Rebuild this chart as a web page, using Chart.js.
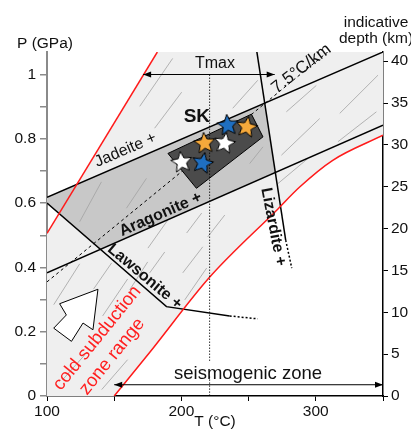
<!DOCTYPE html>
<html lang="en">
<head>
  <meta charset="UTF-8" />
  <title>P-T diagram, cold subduction range</title>
  <style>
    html, body { margin: 0; padding: 0; background: #fff; }
    #pt { display: block; }
  </style>
</head>
<body>
<canvas id="pt" width="411" height="431"></canvas>

<script src="https://cdn.jsdelivr.net/npm/chart.js"></script>
<script>
  // [T (°C), P (GPa)] pairs
  const coldLeft = [[100, 0.506], [182.1, 1.07]];
  const coldRight = [[150, 0], [176.5, 0.136], [221.1, 0.370], [270.9, 0.578], [288, 0.650], [312.6, 0.733], [350, 0.811]];
  const jadeite = [[100, 0.618], [350, 1.07]];
  const aragonite = [[100, 0.383], [350, 0.842]];
  const lawsonite = [[100, 0.6], [188.9, 0.278], [235.9, 0.249]];
  const lawsoniteExt = [[235.9, 0.249], [256.8, 0.240]];
  const lizardite = [[255.8, 1.08], [277.6, 0.485]];
  const lizarditeExt = [[277.6, 0.485], [282.1, 0.398]];
  const geotherm = [[100, 0.355], [310.3, 1.075]];
  const hpBand = [[100, 0.618], [261.7, 0.910], [269.8, 0.695], [139.8, 0.456], [100, 0.6], [100, 0.618]];
  const skField = [[190.0, 0.7545], [252.1, 0.8766], [260.7, 0.806], [211.2, 0.646], [190.0, 0.7545]];
  const starsWhite = [[200.2, 0.727], [232.2, 0.786]];
  const starsBlue = [[215.8, 0.724], [234.5, 0.842]];
  const starsOrange = [[217.3, 0.786], [248.6, 0.836]];
  const flowArrow = [[137.9, 0.332], [134.2, 0.206], [126.8, 0.227], [118.2, 0.170], [105.0, 0.211], [114.4, 0.252], [109.4, 0.287], [137.9, 0.332]];
  const hatch = [
    [169.0, 0.901, 193.5, 1.050], [180.1, 0.833, 200.2, 0.945], [238.2, 0.895, 256.8, 0.982],
    [278.1, 0.884, 300.4, 0.966], [317.8, 0.879, 346.3, 0.998],
    [124.3, 0.542, 140.5, 0.666], [159.1, 0.584, 174.0, 0.677], [175.1, 0.460, 190.0, 0.548],
    [250.8, 0.723, 260.7, 0.775], [274.4, 0.749, 302.9, 0.863], [316.5, 0.791, 345.1, 0.884],
    [271.9, 0.661, 294.2, 0.739], [105.0, 0.284, 124.3, 0.411], [134.7, 0.333, 148.1, 0.414],
    [141.4, 0.249, 160.0, 0.364], [161.5, 0.330, 174.9, 0.417], [176.4, 0.383, 187.6, 0.448],
    [201.0, 0.383, 215.9, 0.464], [202.5, 0.299, 218.8, 0.398], [203.9, 0.507, 215.1, 0.569],
    [219.6, 0.495, 232.3, 0.563], [111.7, 0.051, 128.1, 0.128], [140.7, 0.020, 160.0, 0.113]
  ];
  const tMax = 221;
  const tMaxLevel = 1.0;
  const tMaxRange = [171.5, 269.4];
  const seismoLevel = 0.035;
  const seismoRange = [150, 350];

  const FONT = "'Liberation Sans', Arial, sans-serif";
  const pts = arr => arr.map(([t, p]) => ({x: t, y: p}));
  const hatchPts = [];
  hatch.forEach(([t1, p1, t2, p2]) => {
    hatchPts.push({x: t1, y: p1}, {x: t2, y: p2}, {x: t2, y: null});
  });

  function starImage(fill) {
    const r = 11, c = document.createElement('canvas');
    c.width = c.height = 2 * r + 4;
    const g = c.getContext('2d');
    g.translate(r + 2, r + 2);
    g.beginPath();
    for (let i = 0; i < 10; i++) {
      const rad = i % 2 ? r * 0.45 : r;
      const a = -Math.PI / 2 + i * Math.PI / 5;
      g.lineTo(rad * Math.cos(a), rad * Math.sin(a));
    }
    g.closePath();
    g.fillStyle = fill;
    g.fill();
    g.lineWidth = 1;
    g.strokeStyle = '#000';
    g.stroke();
    return c;
  }

  function line(data, color, width, order, extra) {
    return Object.assign({
      data: pts(data), borderColor: color, borderWidth: width,
      pointRadius: 0, fill: false, order: order
    }, extra || {});
  }

  function area(data, bg, order, border) {
    return {
      data: pts(data), backgroundColor: bg, fill: 'shape',
      borderColor: border || 'rgba(0,0,0,0)', borderWidth: border ? 1 : 0,
      pointRadius: 0, order: order
    };
  }

  function stars(data, fill, rot) {
    return {
      data: pts(data), showLine: false, pointStyle: starImage(fill),
      pointRadius: 6, pointRotation: rot, order: 1
    };
  }

  // text placed in data coordinates (T, P), rotation in degrees
  const notes = [
    {text: 'Tmax', t: 225, p: 1.035, size: 16},
    {text: 'SK', t: 211.5, p: 0.868, size: 19, bold: true},
    {text: 'Jadeite +', t: 158.4, p: 0.765, size: 16, rot: -23.4},
    {text: 'Aragonite +', t: 184.5, p: 0.565, size: 16, bold: true, rot: -23.8},
    {text: 'Lawsonite +', t: 172.7, p: 0.371, size: 16, bold: true, rot: 40},
    {text: 'Lizardite +', t: 268.3, p: 0.526, size: 16, bold: true, rot: 79},
    {text: '7.5°C/km', t: 289.3, p: 1.018, size: 17, rot: -37.4},
    {text: 'cold subduction', t: 137.3, p: 0.180, size: 18.5, rot: -51, color: '#ff1f1f'},
    {text: 'zone range', t: 148.5, p: 0.123, size: 18.5, rot: -51, color: '#ff1f1f'},
    {text: 'seismogenic zone', t: 249.6, p: 0.069, size: 18.5}
  ];

  function head(ctx, x, y, dir) {
    ctx.beginPath();
    ctx.moveTo(x, y);
    ctx.lineTo(x - dir * 8, y - 3);
    ctx.lineTo(x - dir * 8, y + 3);
    ctx.closePath();
    ctx.fill();
  }

  const overlay = {
    id: 'overlay',
    afterDatasetsDraw(chart) {
      const {ctx, chartArea} = chart;
      const sx = chart.scales.x, sy = chart.scales.y;
      ctx.save();
      ctx.fillStyle = '#000';
      head(ctx, sx.getPixelForValue(tMaxRange[0]), sy.getPixelForValue(tMaxLevel), -1);
      head(ctx, sx.getPixelForValue(tMaxRange[1]), sy.getPixelForValue(tMaxLevel), 1);
      head(ctx, sx.getPixelForValue(seismoRange[0]), sy.getPixelForValue(seismoLevel), -1);
      head(ctx, sx.getPixelForValue(seismoRange[1]), sy.getPixelForValue(seismoLevel), 1);

      ctx.textAlign = 'center';
      ctx.textBaseline = 'middle';
      notes.forEach(n => {
        ctx.save();
        ctx.translate(sx.getPixelForValue(n.t), sy.getPixelForValue(n.p));
        ctx.rotate((n.rot || 0) * Math.PI / 180);
        ctx.font = (n.bold ? 'bold ' : '') + n.size + 'px ' + FONT;
        ctx.fillStyle = n.color || '#111';
        ctx.fillText(n.text, 0, 0);
        ctx.restore();
      });

      // axis titles
      ctx.fillStyle = '#111';
      ctx.font = '15.5px ' + FONT;
      ctx.textBaseline = 'alphabetic';
      ctx.textAlign = 'left';
      ctx.fillText('P (GPa)', chartArea.left - 30, chartArea.top - 4);
      ctx.textAlign = 'center';
      ctx.fillText('indicative', chartArea.right - 7, chartArea.top - 25);
      ctx.fillText('depth (km)', chartArea.right - 7, chartArea.top - 9);
      ctx.textBaseline = 'middle';
      ctx.fillText('T (°C)', (chartArea.left + chartArea.right) / 2, chartArea.bottom + 26);
      ctx.restore();
    }
  };

  const tickFont = {family: FONT, size: 15.5};

  new Chart(document.getElementById('pt'), {
    type: 'line',
    data: {
      datasets: [
        area([[100, 0], ...coldLeft, [350, 1.07], ...coldRight.slice().reverse(), [100, 0]], '#efefef', 20),
        area(hpBand, '#c8c8c8', 19),
        {data: hatchPts, borderColor: '#a2a2a2', borderWidth: 0.8, pointRadius: 0, spanGaps: false, order: 18},
        line(geotherm, '#000', 1, 17, {borderDash: [3, 3]}),
        area(skField, '#4b4b4b', 16, '#000'),
        line(jadeite, '#000', 1.5, 10),
        line(aragonite, '#000', 1.5, 10),
        line(lawsonite, '#000', 1.5, 10),
        line(lawsoniteExt, '#000', 1.5, 10, {borderDash: [2, 2]}),
        line(lizardite, '#000', 1.5, 10),
        line(lizarditeExt, '#000', 1.5, 10, {borderDash: [2, 2]}),
        line(coldLeft, '#ff1a1a', 1.5, 9),
        line(coldRight, '#ff1a1a', 1.5, 9, {cubicInterpolationMode: 'monotone'}),
        line([[tMaxRange[0], tMaxLevel], [tMaxRange[1], tMaxLevel]], '#000', 1, 8),
        line([[tMax, tMaxLevel], [tMax, 0.107]], '#000', 0.8, 8, {borderDash: [1.5, 1.5]}),
        line([[tMax, 0.061], [tMax, 0]], '#000', 0.8, 8, {borderDash: [1.5, 1.5]}),
        line([[seismoRange[0], seismoLevel], [seismoRange[1], seismoLevel]], '#000', 1, 8),
        area(flowArrow, '#fff', 7, '#000'),
        stars(starsWhite, '#ffffff', [-8, 10]),
        stars(starsBlue, '#1f6fc1', [12, -6]),
        stars(starsOrange, '#f6a93b', [-6, 10])
      ]
    },
    options: {
      responsive: false,
      animation: false,
      events: [],
      layout: {padding: {top: 52}},
      plugins: {legend: {display: false}, tooltip: {enabled: false}},
      elements: {line: {tension: 0}},
      scales: {
        x: {
          type: 'linear', min: 100, max: 350, position: 'bottom',
          afterFit: s => { s.height = 35; },
          ticks: {stepSize: 50, includeBounds: false, padding: 1, maxRotation: 0,
                  font: tickFont, color: '#111',
                  callback: v => (v % 100 === 0 ? String(v) : '')},
          grid: {drawOnChartArea: false, tickLength: 5, color: '#000'},
          border: {color: '#000', width: 1.5}
        },
        y: {
          type: 'linear', min: 0, max: 1.07, position: 'left',
          afterFit: s => { s.width = 47; },
          ticks: {stepSize: 0.1, includeBounds: false, padding: 4, font: tickFont, color: '#111',
                  callback: v => { const r = Math.round(v * 10); return r % 2 === 0 ? String(r / 10) : ''; }},
          grid: {drawOnChartArea: false, tickLength: 7, color: '#8a8a8a', lineWidth: 1.5},
          border: {color: '#8a8a8a', width: 2}
        },
        y2: {
          type: 'linear', min: 0, max: 41.1, position: 'right',
          afterFit: s => { s.width = 28; },
          ticks: {stepSize: 5, includeBounds: false, padding: 3, font: tickFont, color: '#111'},
          grid: {drawOnChartArea: false, tickLength: 5, color: '#000'},
          border: {color: '#000', width: 1.5}
        }
      }
    },
    plugins: [overlay]
  });
</script>
</body>
</html>
